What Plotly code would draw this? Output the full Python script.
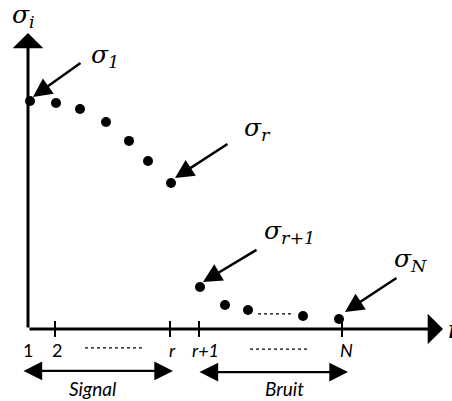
import plotly.graph_objects as go

# Singular values sigma_i, in decreasing order (schematic spectrum)
signal_pos = [2, 28, 52, 78, 101, 120, 143]
signal_sigma = [1.000, 0.991, 0.965, 0.908, 0.825, 0.737, 0.640]
noise_pos = [172, 197, 220, 275, 311]
noise_sigma = [0.184, 0.105, 0.083, 0.057, 0.044]

# Index axis: tick positions and labels
tick_pos = [0, 27, 142, 171, 314]
tick_text = ["1", "2", "<i>r</i>", "<i>r+1</i>", "<i>N</i>"]
tick_label_pos = [0, 29, 144, 177, 318]

# Labelled singular values: (label, label x, label y, arrow tail x, tail y, head x, head y)
callouts = [
    ("σ<sub>1</sub>", 61, 1.197, 54, 1.171, 5, 1.018),
    ("σ<sub>r</sub>", 214, 0.877, 201, 0.816, 147, 0.662),
    ("σ<sub>r+1</sub>", 234, 0.425, 230, 0.351, 175, 0.206),
    ("σ<sub>N</sub>", 364, 0.303, 370, 0.228, 317, 0.075),
]

# Ranges of indices grouped below the axis
groups = [("<i>Signal</i>", -6, 145, 64), ("<i>Bruit</i>", 170, 320, 256)]

X_TIP = 415
Y_TIP = 1.298

SERIF = "DejaVu Serif"
SANS = "Lato"

fig = go.Figure()

fig.add_trace(go.Scatter(
    x=signal_pos + noise_pos,
    y=signal_sigma + noise_sigma,
    mode="markers",
    marker=dict(color="black", size=10),
    hoverinfo="skip",
    showlegend=False,
))

annotations = []
shapes = []

# Axes drawn as arrows from the origin
for tip in [(X_TIP, 0), (0, Y_TIP)]:
    annotations.append(dict(
        x=tip[0], y=tip[1], ax=0, ay=0, xref="x", yref="y", axref="x", ayref="y",
        text="", showarrow=True, arrowhead=1, arrowsize=1.7, arrowwidth=3,
        arrowcolor="black", standoff=0, startstandoff=0,
    ))

# Axis titles
annotations.append(dict(
    x=-18, y=1.372, xref="x", yref="y", text="<i>σ<sub>i</sub></i>",
    showarrow=False, xanchor="left", yanchor="middle",
    font=dict(family=SERIF, size=25, color="black"),
))
annotations.append(dict(
    x=418, y=0.0, xref="x", yref="y", text="<i>i</i>",
    showarrow=False, xanchor="left", yanchor="middle",
    font=dict(family=SERIF, size=25, color="black"),
))

# Tick marks crossing the index axis, and their labels
for p in tick_pos[1:]:
    shapes.append(dict(type="line", xref="x", yref="y", x0=p, x1=p,
                       y0=-0.035, y1=0.035, line=dict(color="black", width=2)))
for p, t in zip(tick_label_pos, tick_text):
    annotations.append(dict(
        x=p, y=-0.092, xref="x", yref="y", text=t, showarrow=False,
        xanchor="center", yanchor="middle",
        font=dict(family=SANS, size=18, color="black"),
    ))

# Dotted ellipsis segments
for x0, x1, y in [(57, 114, -0.083), (222, 279, -0.088), (230, 264, 0.066)]:
    shapes.append(dict(type="line", xref="x", yref="y", x0=x0, x1=x1, y0=y, y1=y,
                       line=dict(color="black", width=1.2, dash="dot")))

# Callout labels with arrows pointing at the singular values
for label, lx, ly, tx, ty, hx, hy in callouts:
    annotations.append(dict(
        x=lx, y=ly, xref="x", yref="y", text="<i>" + label + "</i>",
        showarrow=False, xanchor="left", yanchor="middle",
        font=dict(family=SERIF, size=25, color="black"),
    ))
    annotations.append(dict(
        x=hx, y=hy, ax=tx, ay=ty, xref="x", yref="y", axref="x", ayref="y",
        text="", showarrow=True, arrowhead=2, arrowsize=1.5, arrowwidth=2.5,
        arrowcolor="black", standoff=0, startstandoff=0,
    ))

# Double-headed range arrows with their names
for name, x0, x1, xc in groups:
    y = -0.184 if x0 < 0 else -0.189
    annotations.append(dict(
        x=x1, y=y, ax=x0, ay=y, xref="x", yref="y", axref="x", ayref="y",
        text="", showarrow=True, arrowhead=2, startarrowhead=2, arrowside="end+start",
        arrowsize=1.7, startarrowsize=1.7, arrowwidth=2.2, arrowcolor="black",
        standoff=0, startstandoff=0,
    ))
    annotations.append(dict(
        x=xc, y=-0.263, xref="x", yref="y", text=name, showarrow=False,
        xanchor="center", yanchor="middle",
        font=dict(family=SANS, size=19, color="black"),
    ))

fig.update_layout(
    width=452, height=401,
    margin=dict(l=0, r=0, t=0, b=0),
    paper_bgcolor="white", plot_bgcolor="white",
    xaxis=dict(range=[-28, 424], visible=False, fixedrange=True),
    yaxis=dict(range=[-0.3158, 1.4430], visible=False, fixedrange=True),
    annotations=annotations,
    shapes=shapes,
    showlegend=False,
)

fig.write_html("out.html")
